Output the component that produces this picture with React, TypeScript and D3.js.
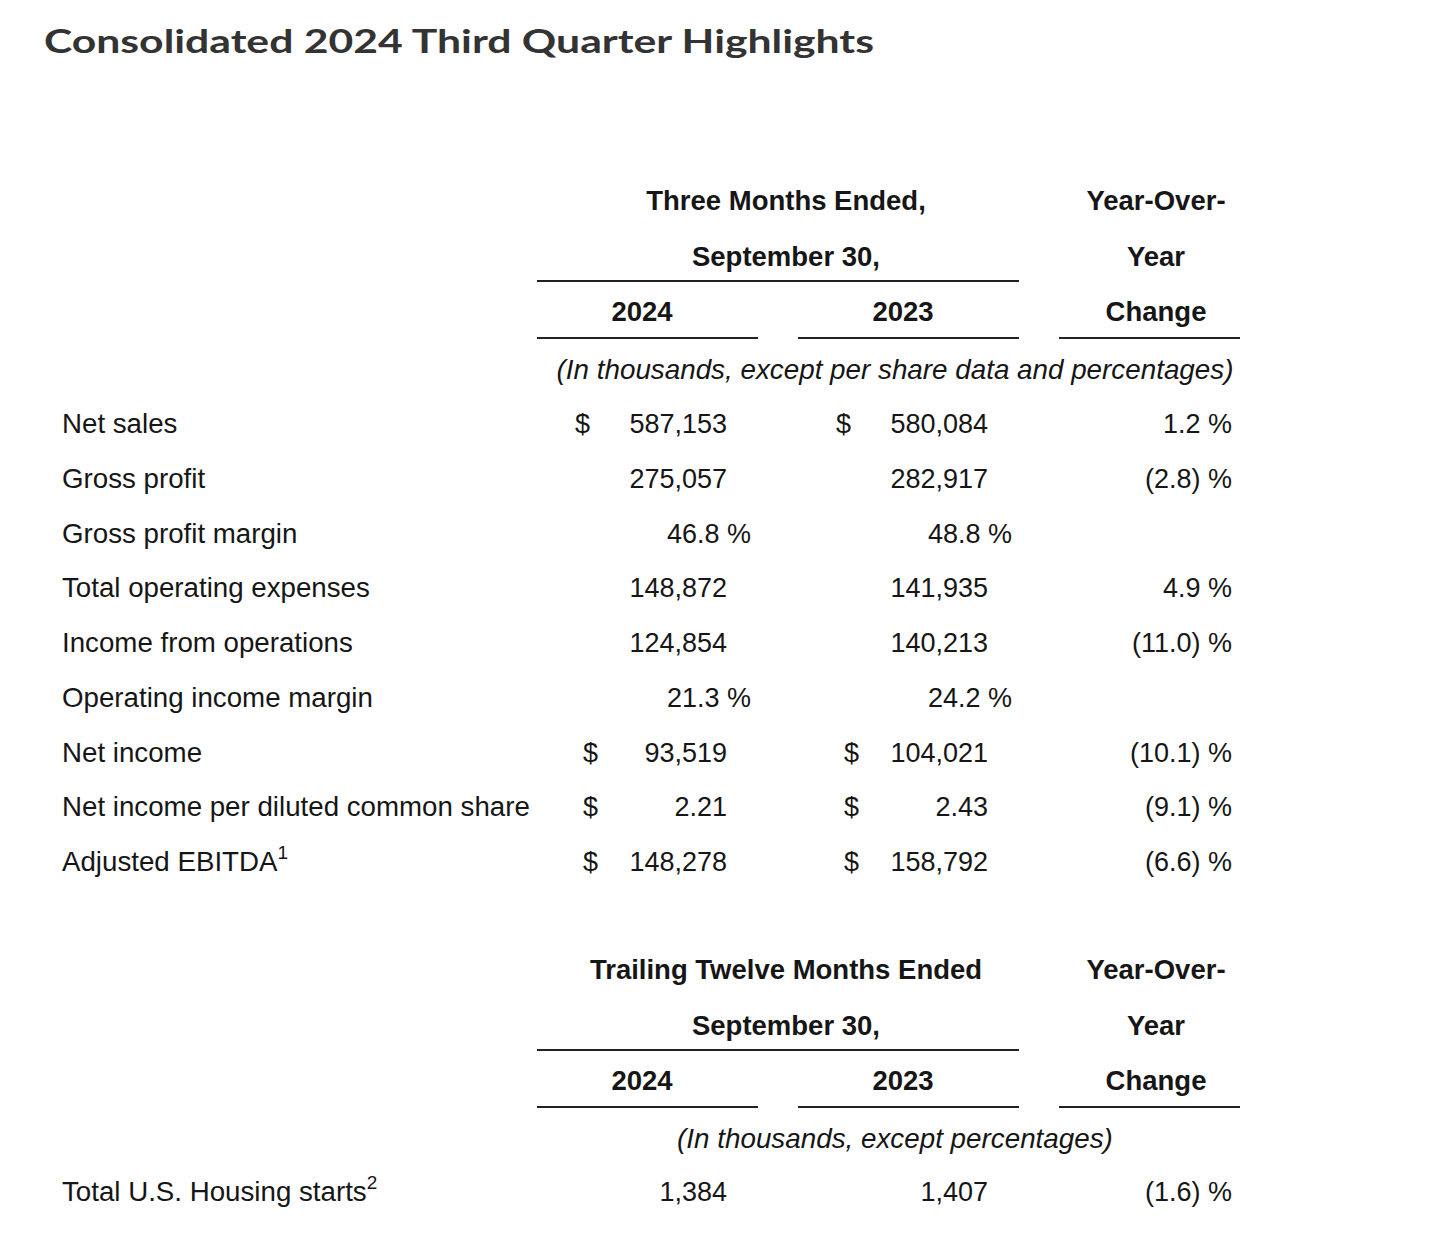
import React from "react";
import * as d3 from "d3";

// ---------- data ----------
const title = "Consolidated 2024 Third Quarter Highlights";
const q3Header = ["Three Months Ended,", "September 30,"];
const ttmHeader = ["Trailing Twelve Months Ended", "September 30,"];
const yearLabels = ["2024", "2023"];
const yoyHeader = ["Year-Over-", "Year", "Change"];
const q3Note = "(In thousands, except per share data and percentages)";
const ttmNote = "(In thousands, except percentages)";

const rowLabels = [
  "Net sales",
  "Gross profit",
  "Gross profit margin",
  "Total operating expenses",
  "Income from operations",
  "Operating income margin",
  "Net income",
  "Net income per diluted common share",
  "Adjusted EBITDA",
];
const rowSup = ["", "", "", "", "", "", "", "", "1"];
const rowKinds = ["usd", "int", "pct", "int", "int", "pct", "usd", "eps", "usd"];
const q3Values2024 = [587153, 275057, 46.8, 148872, 124854, 21.3, 93519, 2.21, 148278];
const q3Values2023 = [580084, 282917, 48.8, 141935, 140213, 24.2, 104021, 2.43, 158792];
const q3Change: (number | null)[] = [1.2, -2.8, null, 4.9, -11.0, null, -10.1, -9.1, -6.6];

const ttmLabels = ["Total U.S. Housing starts"];
const ttmSup = ["2"];
const ttmKinds = ["int"];
const ttm2024 = [1384];
const ttm2023 = [1407];
const ttmChange: (number | null)[] = [-1.6];

// ---------- formatting ----------
const fInt = d3.format(",");
const fEps = d3.format(".2f");
const fPct = d3.format(".1f");
function fmtVal(v: number, kind: string) {
  if (kind === "pct") return `${fPct(v)} %`;
  if (kind === "eps") return fEps(v);
  return fInt(v);
}
function fmtChange(v: number | null) {
  if (v == null) return "";
  return v < 0 ? `(${fPct(-v)}) %` : `${fPct(v)} %`;
}

// ---------- layout ----------
const W = 1440;
const H = 1243;
const BODY = "'Liberation Sans', Arial, Helvetica, sans-serif";
const TXT = "#161616";
const FS = 27;
const FS_LABEL = 27.7;
const FS_HEAD = 27.5;

const labelX = 62;
const colRight = [727, 988]; // numbers
const colPctRight = [751, 1012]; // percentages
const changeRight = 1232;
const dollarXFirst = [575, 836];
const dollarX = [583, 844];

const spanL = 537, spanR = 1019;
const col1 = [537, 758];
const col2 = [798, 1019];
const col3 = [1059, 1240];

const yQ3 = d3.scalePoint<string>().domain(rowLabels).range([433, 871]);
const yTtm = d3.scalePoint<string>().domain(ttmLabels).range([1201, 1201]);

function Header({ top, span, note }: { top: number; span: string[]; note: string }) {
  const b1 = top, b2 = top + 56, b3 = top + 111;
  const l1 = top + 71, l2 = top + 128;
  const noteY = top + 169;
  const cx = 786;
  const c3 = 1156;
  return (
    <g fontFamily={BODY} fontSize={FS_HEAD} fill={TXT}>
      <text x={cx} y={b1} textAnchor="middle" fontWeight="bold">{span[0]}</text>
      <text x={cx} y={b2} textAnchor="middle" fontWeight="bold">{span[1]}</text>
      <line x1={spanL} x2={spanR} y1={l1} y2={l1} stroke="#222" strokeWidth={2} />
      <text x={642} y={b3} textAnchor="middle" fontWeight="bold">{yearLabels[0]}</text>
      <text x={903} y={b3} textAnchor="middle" fontWeight="bold">{yearLabels[1]}</text>
      <text x={c3} y={b1} textAnchor="middle" fontWeight="bold">{yoyHeader[0]}</text>
      <text x={c3} y={b2} textAnchor="middle" fontWeight="bold">{yoyHeader[1]}</text>
      <text x={c3} y={b3} textAnchor="middle" fontWeight="bold">{yoyHeader[2]}</text>
      <line x1={col1[0]} x2={col1[1]} y1={l2} y2={l2} stroke="#222" strokeWidth={2} />
      <line x1={col2[0]} x2={col2[1]} y1={l2} y2={l2} stroke="#222" strokeWidth={2} />
      <line x1={col3[0]} x2={col3[1]} y1={l2} y2={l2} stroke="#222" strokeWidth={2} />
      <text x={895} y={noteY} textAnchor="middle" fontStyle="italic" fontSize={27.8}>{note}</text>
    </g>
  );
}

function Rows({
  labels, sups, kinds, v1, v2, ch, y,
}: {
  labels: string[]; sups: string[]; kinds: string[]; v1: number[]; v2: number[];
  ch: (number | null)[]; y: d3.ScalePoint<string>;
}) {
  return (
    <g fontFamily={BODY} fontSize={FS} fill={TXT}>
      {labels.map((lab, i) => {
        const yy = y(lab)!;
        const kind = kinds[i];
        const hasDollar = kind === "usd" || kind === "eps";
        const dx = i === 0 ? dollarXFirst : dollarX;
        const right = kind === "pct" ? colPctRight : colRight;
        return (
          <g key={lab}>
            <text x={labelX} y={yy} fontSize={FS_LABEL}>
              {lab}
              {sups[i] ? <tspan dy={-12} fontSize={19}>{sups[i]}</tspan> : null}
            </text>
            {hasDollar && <text x={dx[0]} y={yy}>$</text>}
            {hasDollar && <text x={dx[1]} y={yy}>$</text>}
            <text x={right[0]} y={yy} textAnchor="end">{fmtVal(v1[i], kind)}</text>
            <text x={right[1]} y={yy} textAnchor="end">{fmtVal(v2[i], kind)}</text>
            <text x={changeRight} y={yy} textAnchor="end">{fmtChange(ch[i])}</text>
          </g>
        );
      })}
    </g>
  );
}

export default function App() {
  return (
    <svg
      width={W}
      height={H}
      viewBox={`0 0 ${W} ${H}`}
      style={{ position: "absolute", left: 0, top: 0, background: "#fff" }}
    >
      <rect width={W} height={H} fill="#fff" />
      <text
        x={44}
        y={53}
        fontFamily="Lato, 'Open Sans', sans-serif"
        fontWeight={700}
        fontSize={32.5}
        fill="#333"
        textLength={830}
        lengthAdjust="spacingAndGlyphs"
      >
        {title}
      </text>
      <Header top={210} span={q3Header} note={q3Note} />
      <Rows labels={rowLabels} sups={rowSup} kinds={rowKinds} v1={q3Values2024} v2={q3Values2023} ch={q3Change} y={yQ3} />
      <Header top={979} span={ttmHeader} note={ttmNote} />
      <Rows labels={ttmLabels} sups={ttmSup} kinds={ttmKinds} v1={ttm2024} v2={ttm2023} ch={ttmChange} y={yTtm} />
    </svg>
  );
}
